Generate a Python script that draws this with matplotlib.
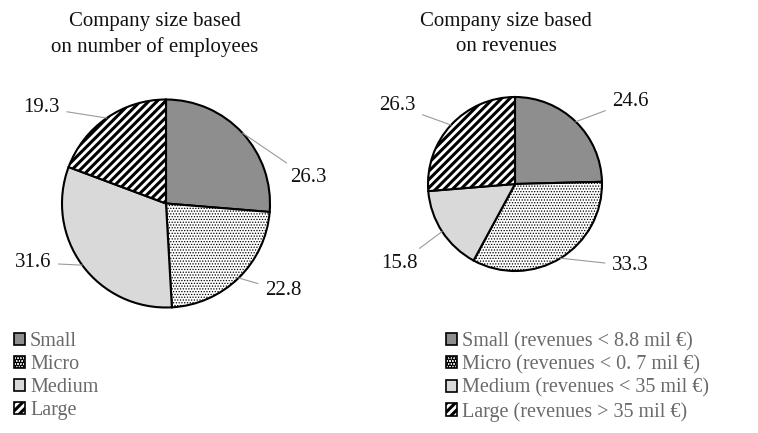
import numpy as np
import matplotlib.pyplot as plt
from matplotlib.patches import Patch

plt.rcParams['font.family'] = ['Liberation Serif', 'DejaVu Serif']
plt.rcParams['hatch.linewidth'] = 2.2

# data
sizes = ['Small', 'Micro', 'Medium', 'Large']
employees = [26.3, 22.8, 31.6, 19.3]
revenues = [24.6, 33.3, 15.8, 26.3]
revenue_labels = ['Small (revenues < 8.8 mil €)', 'Micro (revenues < 0. 7 mil €)',
                  'Medium (revenues < 35 mil €)', 'Large (revenues > 35 mil €)']
titles = ['Company size based\non number of employees', 'Company size based\non revenues']

# styles
colors = ['#8e8e8e', 'white', '#d9d9d9', 'white']
hatches = [None, '......', None, '////']
hatch_lw = [None, 0.6, None, 2.2]
label_gray = '#6a6a6a'

W, H = 758, 433
fig = plt.figure(figsize=(W / 100, H / 100), dpi=100)

# pie centre/radius in pixels, label offsets in radius units
pies = [
    dict(cx=166, cy=203.5, r=104, values=employees, title_x=155,
         label_pos=[(1.19, 0.25, 'left'), (0.95, -0.84, 'left'),
                    (-1.10, -0.57, 'right'), (-1.02, 0.92, 'right')]),
    dict(cx=515, cy=184, r=87, values=revenues, title_x=506,
         label_pos=[(1.115, 0.95, 'left'), (1.115, -0.94, 'left'),
                    (-1.115, -0.91, 'right'), (-1.14, 0.90, 'right')]),
]


def style_hatch(patch, h, lw):
    if h:
        patch.set_hatch(h)
        if hasattr(patch, 'set_hatch_linewidth'):
            patch.set_hatch_linewidth(lw)


k = 1.6
for p, title in zip(pies, titles):
    s = p['r'] * k
    ax = fig.add_axes([(p['cx'] - s) / W, (H - p['cy'] - s) / H, 2 * s / W, 2 * s / H])
    wedges, _ = ax.pie(p['values'], colors=colors, startangle=90, counterclock=False,
                       radius=1, wedgeprops=dict(edgecolor='black', linewidth=1.5))
    ax.set_xlim(-k, k)
    ax.set_ylim(-k, k)
    ax.set_aspect('equal')
    ax.set_axis_off()
    for w, h, lw in zip(wedges, hatches, hatch_lw):
        style_hatch(w, h, lw)
    for w, v, (dx, dy, ha) in zip(wedges, p['values'], p['label_pos']):
        ang = np.deg2rad((w.theta1 + w.theta2) / 2)
        ax.annotate(f'{v:.1f}', xy=(np.cos(ang), np.sin(ang)), xytext=(dx, dy),
                    ha=ha, va='center', fontsize=15, color='#111111',
                    annotation_clip=False,
                    arrowprops=dict(arrowstyle='-', color='#9a9a9a', lw=0.8,
                                    shrinkA=3, shrinkB=0))
    fig.text(p['title_x'] / W, 1 - 12 / H, title, ha='center', va='top',
             fontsize=15, color='#111111', linespacing=1.4)


def handles():
    out = []
    for c, h, lw in zip(colors, hatches, hatch_lw):
        patch = Patch(facecolor=c, edgecolor='black', linewidth=1.2)
        style_hatch(patch, h, lw)
        out.append(patch)
    return out


legend_kw = dict(frameon=False, fontsize=14.5, handlelength=0.55, handleheight=0.55,
                 handletextpad=0.25, labelspacing=0.2, borderpad=0, borderaxespad=0,
                 labelcolor=label_gray, loc='upper left')
fig.legend(handles(), sizes, bbox_to_anchor=(14 / W, 1 - 332 / H), **legend_kw)
fig.legend(handles(), revenue_labels, bbox_to_anchor=(446 / W, 1 - 332 / H), **legend_kw)

fig.savefig('out.png', dpi=100)
